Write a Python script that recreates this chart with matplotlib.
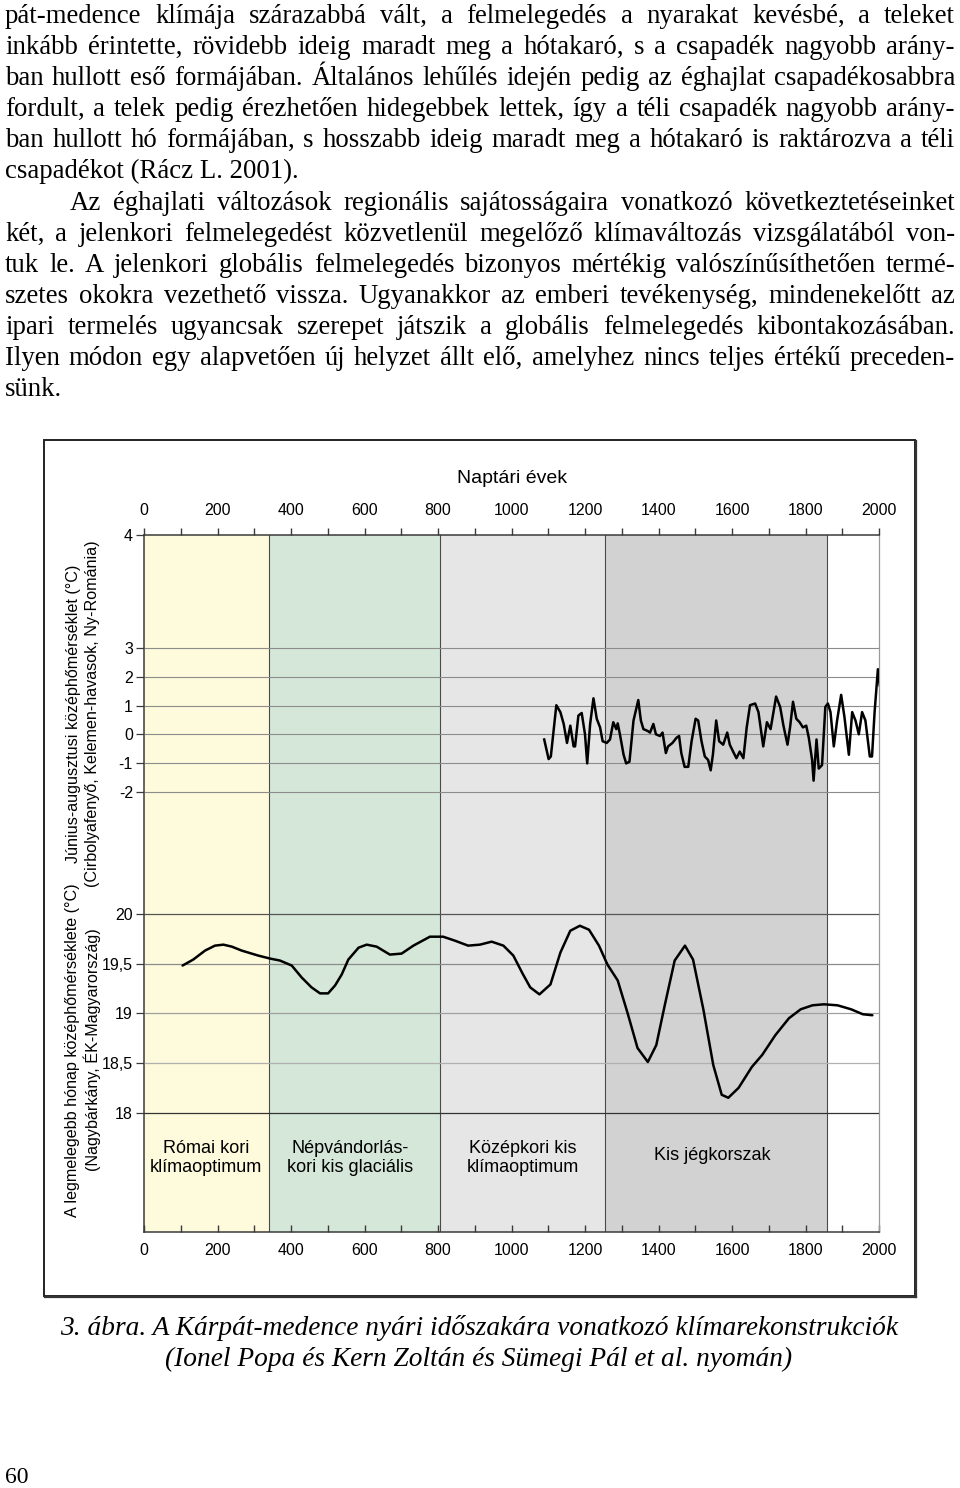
import numpy as np
import matplotlib
matplotlib.use("Agg")
import matplotlib.pyplot as plt
from matplotlib.patches import Rectangle
from matplotlib.lines import Line2D
from matplotlib.ticker import FixedLocator, FixedFormatter, MultipleLocator

# ---------------- data ----------------
body_lines = [
    "pát-medence klímája szárazabbá vált, a felmelegedés a nyarakat kevésbé, a teleket",
    "inkább érintette, rövidebb ideig maradt meg a hótakaró, s a csapadék nagyobb arány-",
    "ban hullott eső formájában. Általános lehűlés idején pedig az éghajlat csapadékosabbra",
    "fordult, a telek pedig érezhetően hidegebbek lettek, így a téli csapadék nagyobb arány-",
    "ban hullott hó formájában, s hosszabb ideig maradt meg a hótakaró is raktározva a téli",
    "csapadékot (Rácz L. 2001).",
    "Az éghajlati változások regionális sajátosságaira vonatkozó következtetéseinket",
    "két, a jelenkori felmelegedést közvetlenül megelőző klímaváltozás vizsgálatából von-",
    "tuk le. A jelenkori globális felmelegedés bizonyos mértékig valószínűsíthetően termé-",
    "szetes okokra vezethető vissza. Ugyanakkor az emberi tevékenység, mindenekelőtt az",
    "ipari termelés ugyancsak szerepet játszik a globális felmelegedés kibontakozásában.",
    "Ilyen módon egy alapvetően új helyzet állt elő, amelyhez nincs teljes értékű preceden-",
    "sünk.",
]
line_justified = [True, True, True, True, True, False, True, True, True, True, True, True, False]
line_indent = [False] * 6 + [True] + [False] * 6

caption_lines = [
    "3. ábra. A Kárpát-medence nyári időszakára vonatkozó klímarekonstrukciók",
    "(Ionel Popa és Kern Zoltán és Sümegi Pál et al. nyomán)",
]
page_number = "60"

# climate periods
period_names = ["Római kori\nklímaoptimum", "Népvándorlás-\nkori kis glaciális",
                "Középkori kis\nklímaoptimum", "Kis jégkorszak"]
period_start = [0, 340, 805, 1255]
period_end = [340, 805, 1255, 1858]
period_colors = ["#FEFADC", "#D4E7D8", "#E6E6E6", "#D2D2D2"]

x_ticklabels = [0, 200, 400, 600, 800, 1000, 1200, 1400, 1600, 1800, 2000]

# Upper series: June-August mean temperature (tree rings, Kelemen mts)
tree_year = [1089, 1101, 1107, 1122, 1133, 1142, 1151, 1160, 1169, 1173, 1182, 1191, 1200,
             1206, 1214, 1223, 1232, 1241, 1248, 1259, 1268, 1277, 1285, 1289, 1295, 1305,
             1312, 1321, 1332, 1345, 1352, 1359, 1370, 1377, 1386, 1393, 1404, 1411, 1420,
             1426, 1438, 1449, 1456, 1462, 1471, 1481, 1490, 1501, 1508, 1517, 1526, 1535,
             1542, 1548, 1557, 1565, 1576, 1587, 1594, 1603, 1612, 1621, 1631, 1640, 1649,
             1663, 1672, 1685, 1695, 1705, 1720, 1731, 1740, 1751, 1758, 1766, 1775, 1784,
             1793, 1802, 1809, 1818, 1822, 1830, 1836, 1845, 1854, 1861, 1868, 1877, 1886,
             1897, 1906, 1918, 1927, 1936, 1945, 1954, 1963, 1975, 1981, 1988, 1997, 2002]
tree_temp = [-0.18, -0.86, -0.77, 1.01, 0.77, 0.36, -0.30, 0.30, -0.42, -0.42, 0.65, 0.74, 0.0,
             -1.01, 0.36, 1.25, 0.54, 0.24, -0.24, -0.30, -0.18, 0.42, 0.18, 0.38, 0.0, -0.71,
             -1.01, -0.95, 0.48, 1.19, 0.48, 0.18, 0.12, 0.06, 0.36, 0.0, -0.06, 0.06, -0.65,
             -0.42, -0.30, -0.12, -0.06, -0.65, -1.13, -1.13, -0.24, 0.54, 0.48, -0.24, -0.77, -0.89,
             -1.25, -0.71, 0.48, -0.24, -0.36, 0.06, -0.36, -0.60, -0.83, -0.60, -0.83, 0.24, 1.01,
             1.07, 0.77, -0.42, 0.42, 0.18, 1.31, 0.95, 0.30, -0.36, 0.24, 1.13, 0.54, 0.42,
             0.24, 0.30, -0.12, -0.89, -1.61, -0.18, -1.19, -1.07, 0.95, 1.07, 0.77, -0.42, 0.48,
             1.37, 0.60, -0.71, 0.77, 0.48, 0.0, 0.77, 0.48, -0.77, -0.77, 0.77, 2.26, 1.70]

# Lower series: warmest month mean temperature (Nagybárkány, NE Hungary)
lake_year = [105, 134, 166, 193, 216, 239, 266, 311, 343, 370, 402, 429, 456, 479, 501, 520,
             538, 556, 584, 606, 633, 669, 701, 733, 778, 814, 846, 882, 914, 946, 978, 1005,
             1030, 1051, 1076, 1106, 1133, 1160, 1186, 1211, 1238, 1261, 1289, 1316, 1343, 1371,
             1394, 1417, 1444, 1472, 1494, 1522, 1549, 1572, 1590, 1618, 1654, 1682, 1718, 1755,
             1787, 1819, 1850, 1887, 1924, 1956, 1982]
lake_temp = [19.48, 19.54, 19.63, 19.68, 19.69, 19.67, 19.63, 19.58, 19.55, 19.53, 19.48, 19.36,
             19.26, 19.20, 19.20, 19.28, 19.39, 19.54, 19.66, 19.69, 19.67, 19.59, 19.60, 19.68,
             19.77, 19.77, 19.73, 19.68, 19.69, 19.72, 19.68, 19.58, 19.40, 19.26, 19.19, 19.29,
             19.61, 19.83, 19.88, 19.84, 19.68, 19.49, 19.33, 19.00, 18.65, 18.51, 18.68, 19.08,
             19.53, 19.68, 19.54, 19.04, 18.48, 18.18, 18.15, 18.25, 18.46, 18.58, 18.78, 18.95,
             19.04, 19.08, 19.09, 19.08, 19.04, 18.99, 18.98]

upper_ticks = [4, 3, 2, 1, 0, -1, -2]
lower_ticks = [20, 19.5, 19, 18.5, 18]
lower_ticklabels = ["20", "19,5", "19", "18,5", "18"]

upper_ylabel = "Június-augusztusi középhőmérséklet (°C)\n(Cirbolyafenyő, Kelemen-havasok, Ny-Románia)"
lower_ylabel = "A legmelegebb hónap középhőmérséklete (°C)\n(Nagybárkány, ÉK-Magyarország)"
x_title = "Naptári évek"

# ---------------- figure ----------------
W, H = 960, 1488
fig = plt.figure(figsize=(W / 100, H / 100), dpi=100)
fig.patch.set_facecolor("white")
SERIF = ["Liberation Serif", "DejaVu Serif"]
SANS = ["Liberation Sans", "DejaVu Sans"]


def fx(x):
    return x / W


def fy(y):
    return 1 - y / H


renderer = fig.canvas.get_renderer()

# ---- body text (justified) ----
BODY_SIZE = 19.3
y0, dy = 16, 31.1
for i, (txt, just, ind) in enumerate(zip(body_lines, line_justified, line_indent)):
    yb = y0 + i * dy + 7
    x0 = 70 if ind else 5
    x1 = 955
    if not just:
        fig.text(fx(x0), fy(yb), txt, fontsize=BODY_SIZE, family=SERIF, va="baseline", ha="left")
        continue
    words = txt.split(" ")
    objs = [fig.text(0, fy(yb), w, fontsize=BODY_SIZE, family=SERIF, va="baseline", ha="left")
            for w in words]
    widths = [o.get_window_extent(renderer).width for o in objs]
    gap = (x1 - x0 - sum(widths)) / (len(words) - 1)
    x = x0
    for o, wd in zip(objs, widths):
        o.set_x(fx(x))
        x += wd + gap

# ---- caption ----
for i, txt in enumerate(caption_lines):
    fig.text(fx(479), fy(1335 + i * 31), txt, fontsize=19.7, family=SERIF, style="italic",
             ha="center", va="baseline")
fig.text(fx(5), fy(1483), page_number, fontsize=17, family=SERIF, ha="left", va="baseline")

# ---- chart frame ----
fig.add_artist(Rectangle((fx(44), fy(1296)), fx(915) - fx(44), fy(440) - fy(1296),
                         transform=fig.transFigure, fill=False, edgecolor="#222222", lw=1.4))
fig.add_artist(Line2D([fx(915.5), fx(915.5)], [fy(441), fy(1297)], transform=fig.transFigure,
                      color="#333333", lw=1.6))
fig.add_artist(Line2D([fx(45), fx(916)], [fy(1296.5), fy(1296.5)], transform=fig.transFigure,
                      color="#333333", lw=1.6))

# ---- plot area ----
L, R, T, B = 144, 879, 535, 1232
rect = [fx(L), fy(B), (R - L) / W, (B - T) / H]
ax = fig.add_axes(rect)
ax.set_xlim(0, 2000)
ax.set_ylim(0, 1)
for s, e, c in zip(period_start, period_end, period_colors):
    ax.axvspan(s, e, color=c, lw=0, zorder=0)
for e in period_end:
    ax.axvline(e, color="#4a4a4a", lw=0.8, zorder=1)
ax.set_yticks([])
for side in ["left", "top", "bottom"]:
    ax.spines[side].set_color("#3a3a3a")
    ax.spines[side].set_linewidth(1.1)
ax.spines["right"].set_color("#9a9a9a")
ax.spines["right"].set_linewidth(0.9)
ax.set_xticks(x_ticklabels, labels=[str(v) for v in x_ticklabels])
ax.xaxis.set_minor_locator(MultipleLocator(100))
ax.tick_params(axis="x", which="both", direction="in", length=5, width=1, color="#3a3a3a",
               top=False, bottom=True, labelbottom=True, labelsize=11.5, pad=8)
for lab in ax.get_xticklabels():
    lab.set_family(SANS)

# top axis ticks/labels
axt = ax.twiny()
axt.set_xlim(0, 2000)
axt.set_xticks(x_ticklabels, labels=[str(v) for v in x_ticklabels])
axt.xaxis.set_minor_locator(MultipleLocator(100))
axt.tick_params(axis="x", which="both", direction="out", length=5, width=1, color="#3a3a3a",
                top=True, bottom=False, labeltop=True, labelbottom=False, labelsize=11.5, pad=7)
for lab in axt.get_xticklabels():
    lab.set_family(SANS)
axt.set_yticks([])
for s in axt.spines.values():
    s.set_visible(False)
axt.patch.set_visible(False)
fig.text(fx(512), fy(478), x_title, fontsize=14, family=SANS, ha="center", va="center")

# upper panel (piecewise scale: 3..4 stretched)
K = 3.92


def fwd(v):
    v = np.asarray(v, dtype=float)
    return np.where(v <= 3, v, 3 + (v - 3) * K)


def inv(v):
    v = np.asarray(v, dtype=float)
    return np.where(v <= 3, v, 3 + (v - 3) / K)


axu = fig.add_axes(rect, sharex=ax)
axu.set_yscale("function", functions=(fwd, inv))
axu.set_ylim(-17.28, 4)
axu.patch.set_visible(False)
for s in axu.spines.values():
    s.set_visible(False)
axu.yaxis.set_major_locator(FixedLocator(upper_ticks))
axu.yaxis.set_major_formatter(FixedFormatter([str(v) for v in upper_ticks]))
axu.yaxis.set_minor_locator(FixedLocator([]))
axu.tick_params(axis="y", direction="out", length=6, width=0.9, color="#3a3a3a",
                labelsize=11.5, pad=2)
for lab in axu.get_yticklabels():
    lab.set_family(SANS)
axu.tick_params(axis="x", which="both", bottom=False, top=False, labelbottom=False)
for v in upper_ticks[1:]:
    axu.axhline(v, color="#8c8c8c", lw=0.8, zorder=1)
axu.plot(tree_year, tree_temp, color="black", lw=1.8, solid_joinstyle="round", zorder=3)

# lower panel
axl = fig.add_axes(rect, sharex=ax)
axl.set_ylim(16.80, 23.81)
axl.patch.set_visible(False)
for s in axl.spines.values():
    s.set_visible(False)
axl.set_yticks(lower_ticks, labels=lower_ticklabels)
axl.tick_params(axis="y", direction="out", length=6, width=0.9, color="#3a3a3a",
                labelsize=11.5, pad=2)
for lab in axl.get_yticklabels():
    lab.set_family(SANS)
axl.tick_params(axis="x", which="both", bottom=False, top=False, labelbottom=False)
grid_cols = ["#555555", "#8c8c8c", "#a0a0a0", "#b0b0b0", "#333333"]
for v, c in zip(lower_ticks, grid_cols):
    axl.axhline(v, color=c, lw=0.9, zorder=1)
axl.plot(lake_year, lake_temp, color="black", lw=1.8, solid_capstyle="round", zorder=3)

# period names
name_x = [206, 350, 523, 712]
name_y = [1158, 1158, 1158, 1155]
for nm, xp, yp in zip(period_names, name_x, name_y):
    fig.text(fx(xp), fy(yp), nm, fontsize=13, family=SANS, ha="center", va="center",
             linespacing=1.2)

# y labels
fig.text(fx(83), fy(714), upper_ylabel, rotation=90, fontsize=11.6, family=SANS,
         ha="center", va="center", multialignment="center", linespacing=1.3)
fig.text(fx(83), fy(1050), lower_ylabel, rotation=90, fontsize=11.6, family=SANS,
         ha="center", va="center", multialignment="center", linespacing=1.3)

fig.savefig("out.png", dpi=100, facecolor="white")
